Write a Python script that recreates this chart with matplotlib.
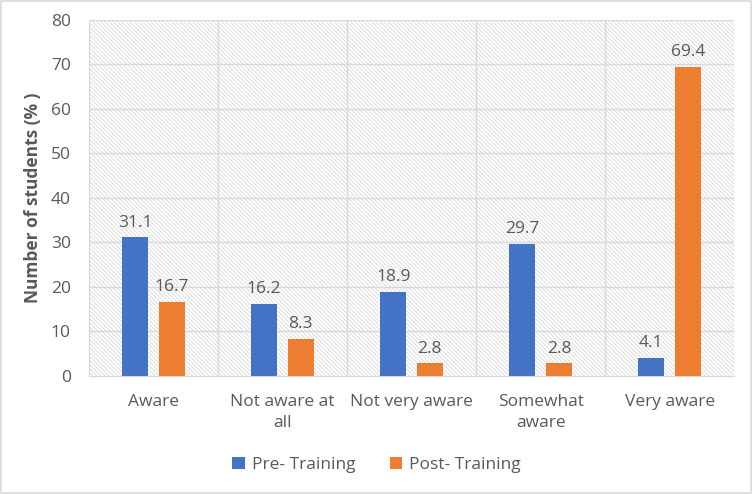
import numpy as np
import matplotlib
matplotlib.use("Agg")
import matplotlib.pyplot as plt
from matplotlib.patches import Rectangle

plt.rcParams['font.family'] = ['Open Sans', 'DejaVu Sans']
plt.rcParams['hatch.color'] = '#dcdcdc'
plt.rcParams['hatch.linewidth'] = 0.6

categories = ["Aware", "Not aware at\nall", "Not very aware", "Somewhat\naware", "Very aware"]
pre_training = [31.1, 16.2, 18.9, 29.7, 4.1]
post_training = [16.7, 8.3, 2.8, 2.8, 69.4]

blue = '#4472c4'
orange = '#ed7d31'
txt = '#595959'
grid = '#d9d9d9'
fs = 12.5

fig = plt.figure(figsize=(7.53, 4.94), dpi=100)
ax = fig.add_axes([0.118, 0.239, 0.857, 0.721])

x = np.arange(len(categories))
w = 0.2
off = 0.142

# hatched plot area background
ax.add_patch(Rectangle((0, 0), 1, 1, transform=ax.transAxes, facecolor='white',
                       edgecolor=grid, hatch='\\' * 8, linewidth=0, zorder=0))

b1 = ax.bar(x - off, pre_training, w, color=blue, label='Pre- Training', zorder=3)
b2 = ax.bar(x + off, post_training, w, color=orange, label='Post- Training', zorder=3)

for bars, vals in ((b1, pre_training), (b2, post_training)):
    for r, v in zip(bars, vals):
        ax.annotate(f"{v:.1f}", (r.get_x() + r.get_width() / 2, v), xytext=(0, 5),
                    textcoords='offset points', ha='center', va='bottom',
                    fontsize=fs, color=txt, zorder=4)

ax.set_xlim(-0.5, len(categories) - 0.5)
ax.set_ylim(0, 80)
ax.set_yticks(range(0, 81, 10))
ax.set_xticks(x)
ax.set_xticklabels(categories, linespacing=1.45)
ax.tick_params(axis='both', length=0, labelsize=fs, labelcolor=txt)
ax.tick_params(axis='x', pad=13)
ax.tick_params(axis='y', pad=13)

for yv in range(10, 81, 10):
    ax.axhline(yv, color=grid, lw=1, zorder=1)
for xv in np.arange(-0.5, len(categories), 1.0):
    ax.axvline(xv, color=grid, lw=1, zorder=1)

for s in ['top', 'right', 'left']:
    ax.spines[s].set_visible(False)
ax.spines['bottom'].set_color(grid)
ax.spines['bottom'].set_zorder(5)

ax.set_ylabel("Number of students (% )", fontsize=12.5, color=txt, fontweight='bold', labelpad=6)

fig.legend(handles=[b1, b2], loc='center', bbox_to_anchor=(0.5, 0.058), ncol=2,
           frameon=False, fontsize=fs, labelcolor=txt, handlelength=0.7,
           handleheight=0.7, columnspacing=2.0, handletextpad=0.4)

fig.patches.append(Rectangle((0.001, 0.002), 0.997, 0.995, transform=fig.transFigure,
                             fill=False, edgecolor='#d9d9d9', lw=1.2))

fig.savefig("out.png", dpi=100)
